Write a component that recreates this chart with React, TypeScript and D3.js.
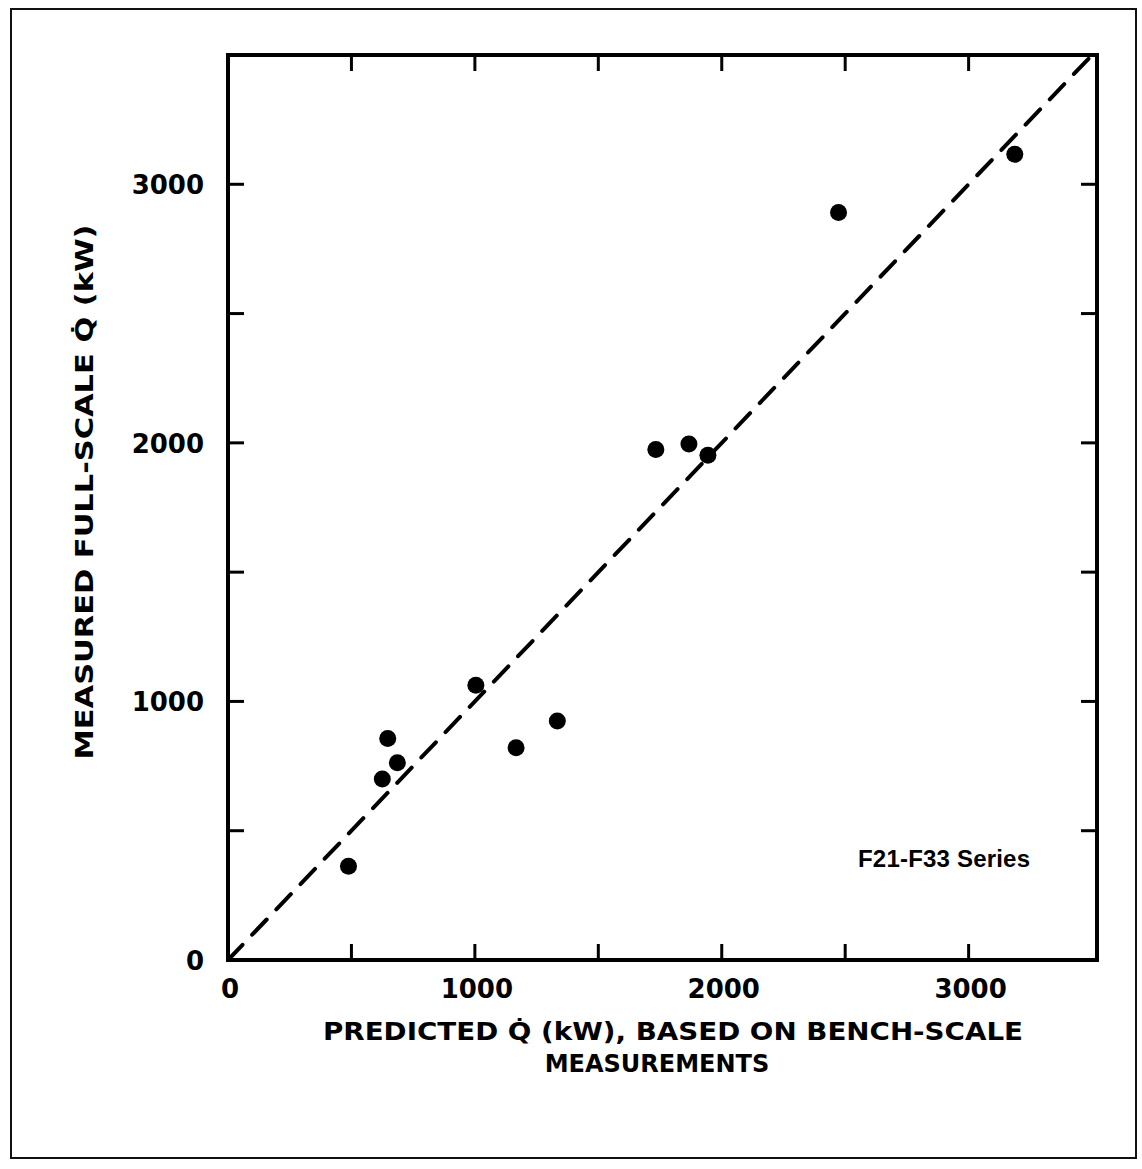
import React, { useEffect, useRef } from 'react'
import { select, scaleLinear, range } from 'd3'

const predicted = [488, 625, 647, 686, 1004, 1167, 1334, 1733, 1867, 1944, 2473, 3187]
const measured = [363, 700, 857, 763, 1063, 821, 924, 1974, 1996, 1952, 2891, 3116]
const tickValues = [500, 1000, 1500, 2000, 2500, 3000]
const labelValues = [0, 1000, 2000, 3000]
const seriesName = 'F21-F33 Series'

function App() {
    const contRef = useRef(null)

    const width = 1142, height = 1169
    const margin = { top: 55, right: 45, bottom: 209, left: 228 }

    useEffect(() => {
    document.body.style.margin = '0'
    const root = select(contRef.current)
    root.selectAll('*').remove()

    const svg = root.append('svg')
    .attr('width', width)
    .attr('height', height)
    .style('display', 'block')
    .style('background', '#fff')

    const x = scaleLinear().domain([0, 3520]).range([margin.left, width - margin.right])
    const y = scaleLinear().domain([0, 3500]).range([height - margin.bottom, margin.top])
    const [x0, x1] = x.range()
    const [y0, y1] = y.range()

    // outer frame of the figure
    svg.append('rect')
    .attr('x', 11).attr('y', 9)
    .attr('width', 1125).attr('height', 1149)
    .attr('fill', 'none').attr('stroke', '#111').attr('stroke-width', 2)

    // plot box
    svg.append('rect')
    .attr('x', x0).attr('y', y1)
    .attr('width', x1 - x0).attr('height', y0 - y1)
    .attr('fill', 'none').attr('stroke', '#000').attr('stroke-width', 4)

    const tl = 16
    const ticks = svg.append('g').attr('stroke', '#000').attr('stroke-width', 3)
    tickValues.forEach(v => {
        ticks.append('line').attr('x1', x(v)).attr('x2', x(v)).attr('y1', y0).attr('y2', y0 - tl)
        ticks.append('line').attr('x1', x(v)).attr('x2', x(v)).attr('y1', y1).attr('y2', y1 + tl)
        ticks.append('line').attr('y1', y(v)).attr('y2', y(v)).attr('x1', x0).attr('x2', x0 + tl)
        ticks.append('line').attr('y1', y(v)).attr('y2', y(v)).attr('x1', x1).attr('x2', x1 - tl)
    })

    const font = "'DejaVu Sans', sans-serif"

    svg.append('g').selectAll('text')
    .data(labelValues)
    .join('text')
    .attr('x', d => x(d) + 2)
    .attr('y', y0 + 38)
    .attr('text-anchor', 'middle')
    .attr('font-family', font).attr('font-weight', 'bold').attr('font-size', 26)
    .text(d => d)

    svg.append('g').selectAll('text')
    .data(labelValues)
    .join('text')
    .attr('x', x0 - 24)
    .attr('y', d => y(d) + 10)
    .attr('text-anchor', 'end')
    .attr('font-family', font).attr('font-weight', 'bold').attr('font-size', 26)
    .text(d => d)

    // 1:1 line
    svg.append('line')
    .attr('x1', x(0)).attr('y1', y(0))
    .attr('x2', x(3505)).attr('y2', y(3505))
    .attr('stroke', '#000').attr('stroke-width', 4)
    .attr('stroke-dasharray', '21 14')
    .attr('stroke-linecap', 'round')

    svg.append('g').selectAll('circle')
    .data(range(predicted.length))
    .join('circle')
    .attr('cx', i => x(predicted[i]))
    .attr('cy', i => y(measured[i]))
    .attr('r', 8.5)
    .attr('fill', '#000')

    svg.append('text')
    .attr('x', x1 - 67).attr('y', y(400) + 10)
    .attr('text-anchor', 'end')
    .attr('font-family', "'Liberation Sans', Arial, sans-serif")
    .attr('font-weight', 'bold').attr('font-size', 24)
    .attr('textLength', 172).attr('lengthAdjust', 'spacing')
    .text(seriesName)

    svg.append('text')
    .attr('x', 673).attr('y', 1040)
    .attr('text-anchor', 'middle')
    .attr('font-family', font).attr('font-weight', 'bold').attr('font-size', 24)
    .attr('textLength', 700).attr('lengthAdjust', 'spacingAndGlyphs')
    .text('PREDICTED Q\u0307 (kW), BASED ON BENCH-SCALE')

    svg.append('text')
    .attr('x', 657).attr('y', 1072)
    .attr('text-anchor', 'middle')
    .attr('font-family', font).attr('font-weight', 'bold').attr('font-size', 24)
    .text('MEASUREMENTS')

    svg.append('text')
    .attr('transform', `translate(93, ${492}) rotate(-90)`)
    .attr('text-anchor', 'middle')
    .attr('font-family', font).attr('font-weight', 'bold').attr('font-size', 24)
    .attr('textLength', 535).attr('lengthAdjust', 'spacingAndGlyphs')
    .text('MEASURED FULL-SCALE Q\u0307 (kW)')

    }, [])

  return (
    <div ref={contRef}></div>
  )
}

export default App
